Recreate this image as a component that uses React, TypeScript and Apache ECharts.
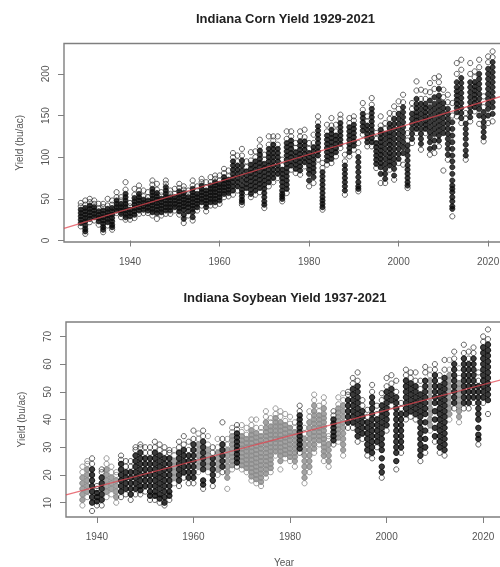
import React, { useEffect, useRef } from "react";
import * as echarts from "echarts";

const cornStartYear = 1929;
const cornValues: number[][] = [
[17,21,25,29,33,37,41,45],[8,11,14,18,23,27,31,35,39,43,48],[22,26,30,34,38,42,46,50],[24,28,32,36,40,44,48],[19,23,27,31,35,39,44],
[10,13,16,20,24,28,32,36,40,44],[18,22,26,30,34,38,42,50],[13,16,19,23,27,31,35,39,43,48],[33,36,40,44,48,52,58],[28,32,36,40,44,48,52],
[25,28,32,36,40,44,48,52,56,61,70],[25,29,33,37,41,45],[27,31,35,39,43,47,51,55,62],[32,36,40,44,48,52,56,60,66],[33,37,41,45,49,53,60],
[33,36,40,44,48,52,58],[30,34,38,42,46,50,54,58,62,67,72],[26,33,37,41,45,49,53,57,61,68],[30,34,38,42,46,50,54,58],[32,36,40,44,48,52,56,60,64,68,72],
[32,36,40,44,48,52,56,60],[36,40,44,48,52,56,62],[31,35,39,43,47,51,55,59,63,68],[21,26,31,37,41,45,49,53,57,61,65],[30,35,40,44,48,52,56,60],
[24,28,34,38,42,46,50,54,58,62,66,72],[36,40,44,48,52,56,60,65],[42,46,50,54,58,62,66,70,74],[35,40,44,48,52,56,60,64,70],[42,46,50,54,58,62,66,70,76],
[42,46,50,54,58,62,66,70,74,78],[44,48,52,56,60,64,68,72,78],[52,56,60,64,68,72,76,81,86],[53,57,61,65,69,73,77,84],[55,60,65,70,75,80,85,90,95,100,105],
[60,65,70,75,80,85,90,95,102],[43,46,49,53,57,61,66,72,78,84,90,96,102,110],[58,63,68,73,78,83,88,95],[52,56,61,66,71,76,81,86,91,96,106],[55,60,65,70,75,80,85,90,95,100,107],
[58,63,68,73,78,83,88,93,98,103,108,113,121],[39,43,47,52,57,62,67,72,77,82,87,92,97,103],[65,70,75,80,85,90,95,100,105,110,115,125],[70,75,80,85,90,95,100,105,110,115,120,125],[75,80,85,90,95,100,105,110,115,125],
[47,50,53,56,60,65,70,75,80,85,90,97],[57,62,67,72,77,82,87,92,97,102,107,112,117,122,131],[85,90,95,100,105,110,115,120,125,131],[81,86,91,96,101,106,111,117],[79,84,89,94,99,104,109,114,119,125,131],
[89,94,99,104,109,114,119,124,133],[65,72,80,85,90,95,100,105,110,117],[69,76,82,87,92,97,102,107,112,117,127],[97,102,107,112,117,122,127,132,137,142,149],[37,40,44,48,52,57,62,67,72,77,82,87,93],
[91,96,101,106,111,116,121,126,131,139],[93,98,103,108,113,118,123,128,133,138,147],[101,106,111,116,121,126,131,139],[111,116,121,126,131,136,141,146,151],[55,60,65,70,75,80,85,90,95,103],
[101,106,111,116,121,126,131,136,141,147],[109,114,119,124,129,134,139,144,149],[59,62,65,70,76,82,88,94,100,106,117],[127,132,137,142,147,152,157,165],[113,118,123,128,133,138,143,149],
[113,118,123,128,133,138,143,148,153,158,163,171],[87,92,97,102,107,112,117,122,129],[69,80,88,93,98,103,108,113,118,123,128,133,138,149],[69,74,80,86,92,98,104,110,116,122,128,134,141],[85,90,95,100,105,110,115,120,125,130,135,140,146,153],
[73,78,86,92,98,104,110,116,122,128,134,140,146,152,161],[93,98,104,110,116,122,128,134,140,146,152,158,167],[91,105,112,118,124,130,136,142,148,154,160,166,175],[63,66,70,75,80,85,90,96,102,108,114,120,129],[117,122,128,134,140,146,152,158,165],
[129,134,139,144,149,154,159,164,170,180,191],[109,116,122,128,134,140,146,152,158,164,170,181],[129,134,139,144,149,154,159,164,170,179],[103,110,118,124,130,136,142,148,154,160,168,178,189],[105,112,120,128,134,140,146,152,158,164,172,182,195],
[113,120,126,132,138,144,150,156,162,168,174,182,190,197],[84,129,135,141,147,153,159,165,172,181],[97,103,110,116,122,128,134,140,146,152,158,166,175],[29,38,41,47,52,58,62,66,72,80,88,95,102,110,118,126,134,142,150,165],[149,154,159,164,169,174,179,184,190,200,213],
[141,147,153,159,165,171,177,183,189,195,205,217],[97,102,108,115,122,128,134,140,146,153],[143,148,154,160,166,172,178,184,190,200,213],[155,160,165,170,175,180,185,190,196,203],[140,150,158,164,170,176,182,188,194,200,208,217],
[119,124,130,136,142,148,154,160,173],[141,150,158,164,170,176,182,188,194,200,206,214,221],[143,152,160,166,172,178,184,190,196,202,208,214,220,227],
];

const soyStartYear = 1937;
const soyValues: number[][] = [
/*1937*/[9,11,13,15,17,19,21,23],[12,14,16,18,20,22,24,25],[7,10,12,14,16,18,20,22,24,26],[9,10.5,12,13.5,15,16],[9,11,13,15,17,19,21,22],
/*1942*/[12,14,16,18,20,22,24,26],[13,15,17,19,21,23],[10,12,14,16,18,20,21],[12,14,16,18,20,22,24,25.5,27],[13,15,17,19,21,23,25],
/*1947*/[11,13,15,17,19,21,23,25],[13,15,17,19,21,23,25,27,29,30],[13,14.5,16,18,20,22,24,26,28,30,31],[14,16,18,20,22,24,26,28,30],[11,12.5,14,16,18,20,22,24,26,28,30],
/*1952*/[11,12.5,14,16,18,20,22,24,26,28,30,32],[10,11.5,13,15,17,19,21,23,25,27,29,31],[9,10,12,14,16,18,20,22,24,26,28,30],[11,12.5,14,16,18,20,22,24,26,28,29],[17,19,21,23,25,27,29],
/*1957*/[16,18,20,22,24,26,28,30,32],[19,21,23,25,27,29,31,34],[17,19,21,23,25,27,29,32],[17,19,21,23,25,27,29,31,33,36],[21,23,25,27,29,31,33,35],
/*1962*/[15,16.5,18,22,24,26,28,30,32,34,36],[21,23,25,27,29,31,34],[16,18,20,22,24,26,28,30],[20,22,24,26,28,30,33],[21,23,25,27,29,31,33,39],
/*1967*/[15,19,21,23,25,27,29,31,33],[22,23.5,25,26.5,28,29.5,31,32.5,34,35.5,37],[23,24.5,26,27.5,29,30.5,32,33.5,35,36.5,38],[22,23.5,25,26.5,28,29.5,31,32.5,34,35.5,38],[21,22.5,24,25.5,27,28.5,30,31.5,33,34.5,37],
/*1972*/[18,19.5,21,22.5,24,25.5,27,28.5,30,31.5,33,34.5,36,38,40],[17,18.5,20,21.5,23,24.5,26,27.5,29,30.5,32,33.5,35,37,40],[16,17.5,19,20.5,22,23.5,25,26.5,28,29.5,31,32.5,34,35.5,37],[19,20.5,22,23.5,25,26.5,28,29.5,31,32.5,34,35.5,37,39,41,43],[21,22.5,24,25.5,27,28.5,30,31.5,33,34.5,36,37.5,39,40.5],
/*1977*/[27,28.5,30,31.5,33,34.5,36,37.5,39,40.5,42,44],[22,25,27,28.5,30,31.5,33,34.5,36,37.5,39,41,43],[26,27.5,29,30.5,32,33.5,35,36.5,38,39.5,42],[25,26.5,28,29.5,31,32.5,34,35.5,37,38.5,41],[23,25,26.5,28,29.5,31,32.5,34,35.5,37,39],
/*1982*/[28,29.5,31,32.5,34,35.5,37,38.5,40,41.5,43,45],[17,19,21,23,25,27,29,31,33,35,37],[21,23,25,27,29,31,33,35,37,39,41,43],[28,29.5,31,32.5,34,35.5,37,38.5,40,41.5,43,45,47,49],[31,32.5,34,35.5,37,38.5,40,41.5,43,45],
/*1987*/[25,27,28.5,30,31.5,33,34.5,36,37.5,39,40.5,42,44,46,48],[23,25,27,29,31,33,34],[31,32.5,34,35.5,37,38.5,40,41.5,43],[32,33.5,35,36.5,38,39.5,41,42.5,44,45.5,48],[27,29,31,33,35,37,39,41,43,45,47,49.5],
/*1992*/[37,39,41,43,45,47,49,50],[37,39,41,43,45,47,49,51,53,55],[32,34,36,38,40,42,44,46,48,50,52,54,57],[33,35,37,39,41,43,45,47],[27,29,31,33,35,37,39,41,43.5],
/*1997*/[26,28,30,32,34,36,38,40,42,44,46,48,50,52.5],[30,32,34,36,38,40,42,45],[19,21,23,26,29,31,33,35,37,39,41,43,45,47,49.5],[36,38,40,42,44,46,48,50,52,55],[45,47,49,51,53,56],
/*2002*/[22,25,28,30,32,34,36,38,40,42,44,46,48,50,54],[28,30,32,34,36,38,40,42,44,46],[40,42,44,46,48,50,52,54,56,58],[41,43,45,47,49,51,53,55,57],[40,42,44,46,48,50,52,54,57],
/*2007*/[25,27,29,31,33,35,37,39,41,43,45,47,49,51,54],[28,30,33,36,39,42,44,46,48,50,52,54,57,59],[36,38,40,42,44,46,48,50,52,54,56,58],[32,34,37,40,43,46,48,50,52,54,56,58,60],[28,30,32,34,36,38,40,42,44,46,48,50,52,54,56],
/*2012*/[27,29,31,33,35,37,39,41,43,45,47,49,51,53,55,58,61.5],[40,42,44,46,48,50,52,54,56,58,61.5],[44,46,48,50,52,54,56,58,60,62,64.5],[39,41,43,45,47,49,51,53,55,58.5],[44,46,48,50,52,54,56,58,60,62,64,67],
/*2017*/[44,46,48,50,52,54,56,58,60,62,64.5],[46,48,50,52,54,56,58,60,62,64,66],[31,33,34.5,37,40,42,44,46,48,50,52,54,57],[46,48,50,52,54,56,58,60,62,64,66,68,70],[42,47,49,51,53,55,57,59,61,63,65,67,69,72.5],
];
const soyGrayYears = [1937,1938,1942,1943,1944,1956,1961,1963,1965,1967,1968,1970,1971,1972,1973,1974,1975,1976,1977,1978,1979,1980,1981,1983,1984,1985,1986,1987,1988,1990,1991,2009,2013,2015];

const cornTrendYears = [1925.25, 2023.5];
const cornTrendValues = [14.5, 174];
const soyTrendYears = [1933.6, 2023.9];
const soyTrendValues = [12.8, 54.4];
const xTicks = [1940, 1960, 1980, 2000, 2020];
const yTicksCorn = [0, 50, 100, 150, 200];
const yTicksSoy = [10, 20, 30, 40, 50, 60, 70];

const FONT = "'Liberation Sans', Arial, sans-serif";
const GREY = "#7f7f7f";
const plain = (v: number) => String(v);

const toPoints = (start: number, rows: number[][], keep: (y: number) => boolean) =>
  rows.flatMap((vals, i) => (keep(start + i) ? vals.map((v) => [start + i, v]) : []));
// Overplotted middles of each year's column read as solid ink; only the outer circles stay open.
const toCore = (start: number, rows: number[][], keep: (y: number) => boolean) =>
  rows.flatMap((vals, i) => (keep(start + i) ? vals.slice(1, -2).map((v) => [start + i, v]) : []));

const makeX = (gridIndex: number, min: number, max: number, name: string) => ({
  type: "value", gridIndex, min, max, name, nameLocation: "middle", nameGap: 40,
  nameTextStyle: { color: "#555", fontSize: 10, fontFamily: FONT },
  splitLine: { show: false }, axisLine: { show: false },
  axisTick: { show: true, length: 6, customValues: xTicks, lineStyle: { color: GREY, width: 1 } },
  axisLabel: { customValues: xTicks, formatter: plain, margin: 14, color: "#555", fontSize: 10, fontFamily: FONT },
});
const makeY = (gridIndex: number, min: number, max: number, ticks: number[], gap: number) => ({
  type: "value", gridIndex, min, max, name: "Yield (bu/ac)", nameLocation: "middle", nameGap: gap, nameRotate: 90,
  nameTextStyle: { color: "#555", fontSize: 10, fontFamily: FONT },
  splitLine: { show: false }, axisLine: { show: false },
  axisTick: { show: true, length: 6, customValues: ticks, lineStyle: { color: GREY, width: 1 } },
  axisLabel: { customValues: ticks, formatter: plain, rotate: 90, margin: 14, color: "#555", fontSize: 10, fontFamily: FONT },
});
const scatter = (idx: number, data: number[][], color: string) => ({
  type: "scatter", xAxisIndex: idx, yAxisIndex: idx, data, symbol: "circle", symbolSize: 5.2, silent: true,
  progressive: 0, itemStyle: { color: "rgba(0,0,0,0)", borderColor: color, borderWidth: 0.9 }, z: 2,
});
const core = (idx: number, data: number[][], color: string, size: number) => ({
  type: "scatter", xAxisIndex: idx, yAxisIndex: idx, data, symbol: "circle", symbolSize: size, silent: true,
  progressive: 0, itemStyle: { color }, z: 2,
});
const trend = (idx: number, xs: number[], ys: number[]) => ({
  type: "line", xAxisIndex: idx, yAxisIndex: idx, data: xs.map((x, i) => [x, ys[i]]), showSymbol: false, silent: true,
  lineStyle: { color: "rgba(225,70,80,0.75)", width: 1.3 }, z: 5,
});

export default function App() {
  const ref = useRef<HTMLDivElement>(null);
  useEffect(() => {
    const chart = echarts.init(ref.current!, undefined, { renderer: "svg" });
    const gray = (y: number) => soyGrayYears.includes(y);
    const dark = (y: number) => !gray(y);
    const titleStyle = { fontSize: 13, fontWeight: "bold", color: "#222", fontFamily: FONT };
    chart.setOption({
      animation: false,
      backgroundColor: "#fff",
      title: [
        { text: "Indiana Corn Yield 1929-2021", left: 280.5, top: 7, textAlign: "center", textStyle: titleStyle },
        { text: "Indiana Soybean Yield 1937-2021", left: 280, top: 286, textAlign: "center", textStyle: titleStyle },
      ],
      grid: [
        { left: 64, top: 43.5, width: 438, height: 198.5, show: true, borderColor: GREY, borderWidth: 1.4, backgroundColor: "#fff", outerBoundsMode: "none" },
        { left: 66, top: 322, width: 436, height: 195, show: true, borderColor: GREY, borderWidth: 1.4, backgroundColor: "#fff", outerBoundsMode: "none" },
      ],
      xAxis: [makeX(0, 1925.25, 2023.1, ""), makeX(1, 1933.6, 2023.9, "Year")],
      yAxis: [makeY(0, -1.8, 236.5, yTicksCorn, 40), makeY(1, 4.83, 75.2, yTicksSoy, 40)],
      series: [
        scatter(0, toPoints(cornStartYear, cornValues, () => true), "#2a2a2a"),
        core(0, toCore(cornStartYear, cornValues, () => true), "#0a0a0a", 5.4),
        trend(0, cornTrendYears, cornTrendValues),
        scatter(1, toPoints(soyStartYear, soyValues, gray), "#777"),
        core(1, toCore(soyStartYear, soyValues, gray), "#8c8c8c", 6),
        scatter(1, toPoints(soyStartYear, soyValues, dark), "#2a2a2a"),
        core(1, toCore(soyStartYear, soyValues, dark), "#0a0a0a", 6.2),
        trend(1, soyTrendYears, soyTrendValues),
      ],
    });
    return () => chart.dispose();
  }, []);
  return <div ref={ref} style={{ position: "absolute", left: 0, top: 0, width: 500, height: 567, overflow: "hidden", filter: "blur(0.4px)" }} />;
}
